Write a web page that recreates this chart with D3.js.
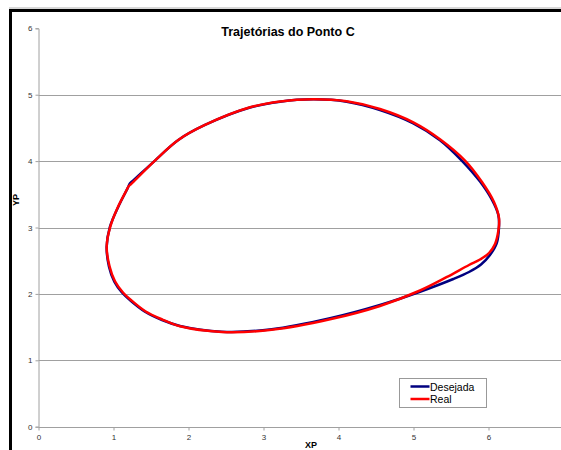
<!DOCTYPE html>
<html><head><meta charset="utf-8">
<script src="https://cdn.jsdelivr.net/npm/d3@7"></script>
<style>body{margin:0;background:#fff}svg{display:block}text{font-family:"Liberation Sans",Arial,sans-serif}</style>
</head><body>
<svg id="c" width="561" height="450"></svg>
<script>
const title = "Trajetórias do Ponto C";
const seriesNames = ["Desejada", "Real"];
const xTicks = [0,1,2,3,4,5,6];
const yTicks = [0,1,2,3,4,5,6];
const desejadaX = [0.909,0.953,1.064,1.187,1.220,1.260,1.553,1.864,2.220,2.820,3.220,3.664,4.109,4.553,4.997,5.353,5.643,5.887,6.047,6.131,6.140,6.109,6.020,5.900,5.740,5.531,5.087,4.553,3.887,3.109,2.443,1.887,1.647,1.420,1.233,1.113,1.011,0.940];
const desejadaY = [2.711,3.012,3.313,3.590,3.666,3.706,4.008,4.318,4.544,4.807,4.895,4.931,4.895,4.770,4.569,4.315,4.008,3.691,3.414,3.188,3.008,2.762,2.586,2.443,2.330,2.224,2.033,1.833,1.633,1.467,1.431,1.517,1.607,1.732,1.893,2.021,2.184,2.410];
const realX = [0.909,0.957,1.053,1.177,1.200,1.240,1.553,1.864,2.220,2.820,3.220,3.664,4.109,4.553,4.997,5.353,5.687,5.913,6.073,6.140,6.133,6.087,6.007,5.887,5.740,5.447,5.087,4.553,3.887,3.109,2.443,1.887,1.651,1.424,1.240,1.121,1.020,0.948];
const realY = [2.711,3.012,3.294,3.569,3.617,3.661,4.008,4.318,4.544,4.810,4.898,4.932,4.902,4.785,4.584,4.330,4.008,3.685,3.384,3.143,2.962,2.752,2.616,2.518,2.435,2.255,2.051,1.818,1.617,1.459,1.428,1.512,1.614,1.739,1.901,2.029,2.190,2.413];

const svg = d3.select("#c");
const x = d3.scaleLinear().domain([0,7]).range([38.5,563.5]);
const y = d3.scaleLinear().domain([0,6]).range([426.7,28.3]);
const grid = "#a0a0a0";

// chart frame
svg.append("line").attr("x1",9).attr("x2",561).attr("y1",8).attr("y2",8).attr("stroke","#b0b0b0").attr("stroke-width",1);
svg.append("rect").attr("x",10.5).attr("y",10.5).attr("width",600).attr("height",500)
  .attr("fill","none").attr("stroke","#000").attr("stroke-width",3);

// gridlines
svg.append("g").selectAll("line").data(yTicks.filter(d=>d>0 && d<6)).join("line")
  .attr("x1",x(0)).attr("x2",561).attr("y1",d=>Math.round(y(d))+0.5).attr("y2",d=>Math.round(y(d))+0.5)
  .attr("stroke",grid).attr("stroke-width",1);

// axes
const ya = svg.append("g").attr("transform",`translate(${x(0)},0)`)
  .call(d3.axisLeft(y).tickValues(yTicks).tickSize(3).tickPadding(3).tickFormat(d3.format("d")));
const xa = svg.append("g").attr("transform",`translate(0,${Math.round(y(0))+0.5})`)
  .call(d3.axisBottom(x).tickValues(xTicks).tickSize(3).tickPadding(4).tickFormat(d3.format("d")));
xa.select(".domain").attr("d",`M${x(0)},0H561`);
[ya,xa].forEach(a=>{
  a.select(".domain").attr("stroke",grid);
  a.selectAll(".tick line").attr("stroke",grid);
  a.selectAll("text").attr("font-size",8).attr("fill","#333").attr("font-family","'Liberation Sans',Arial,sans-serif");
});

// lines
const line = d3.line().x(d=>x(d[0])).y(d=>y(d[1])).curve(d3.curveCatmullRomClosed.alpha(0.5));
const dData = desejadaX.map((v,i)=>[v,desejadaY[i]]);
const rData = realX.map((v,i)=>[v,realY[i]]);
svg.append("path").attr("d",line(dData)).attr("fill","none").attr("stroke","#000080").attr("stroke-width",2.5);
svg.append("path").attr("d",line(rData)).attr("fill","none").attr("stroke","#ff0000").attr("stroke-width",2.5);

// title & labels
svg.append("text").attr("x",288).attr("y",36).attr("text-anchor","middle")
  .attr("font-size",12.5).attr("font-weight","bold").text(title);
svg.append("text").attr("x",311).attr("y",448).attr("text-anchor","middle")
  .attr("font-size",9).attr("font-weight","bold").text("XP");
svg.append("text").attr("transform","translate(19,200) rotate(-90)").attr("text-anchor","middle")
  .attr("font-size",9).attr("font-weight","bold").text("YP");

// legend
const lg = svg.append("g");
lg.append("rect").attr("x",399.5).attr("y",378.5).attr("width",87).attr("height",29)
  .attr("fill","#fff").attr("stroke","#999").attr("stroke-width",1);
const colors = ["#000080","#ff0000"];
seriesNames.forEach((n,i)=>{
  const yy = 386.5 + i*12.5;
  lg.append("line").attr("x1",410.5).attr("x2",429.5).attr("y1",yy).attr("y2",yy)
    .attr("stroke",colors[i]).attr("stroke-width",2.5);
  lg.append("text").attr("x",430).attr("y",yy+4.2).attr("font-size",10.5).attr("fill","#000").text(n);
});
</script>
</body></html>
